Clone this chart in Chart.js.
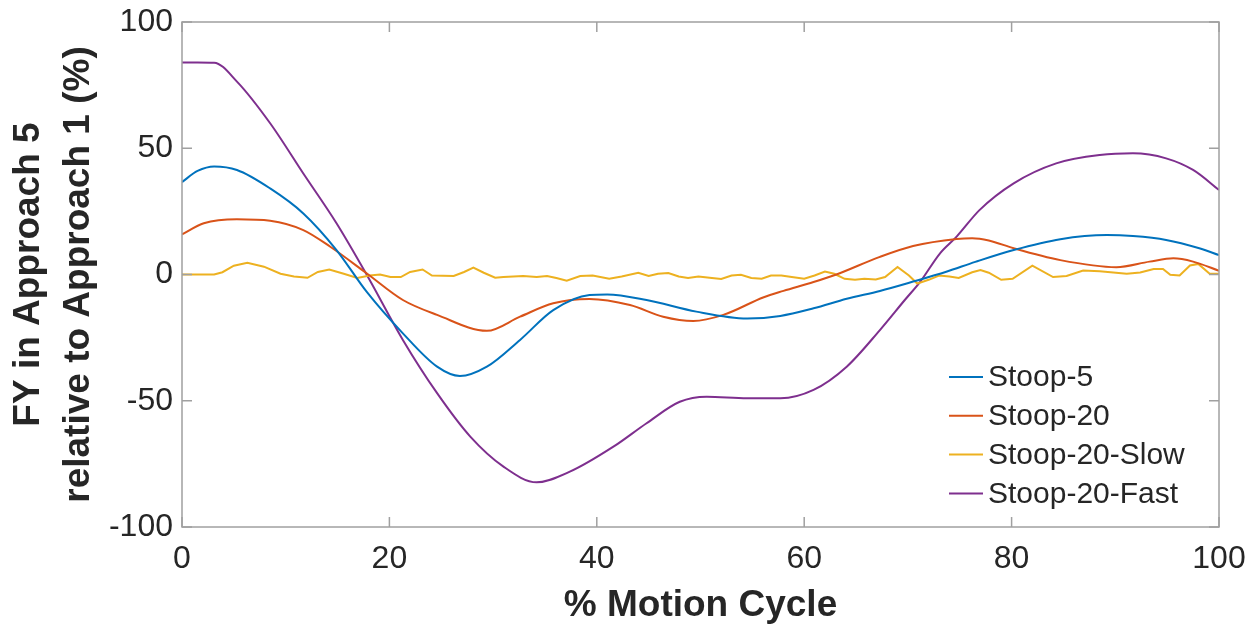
<!DOCTYPE html>
<html>
<head>
<meta charset="utf-8">
<script src="https://cdn.jsdelivr.net/npm/chart.js@4.4.1/dist/chart.umd.min.js"></script>
<style>
  html, body { margin: 0; padding: 0; background: #ffffff; }
  #wrap { width: 1260px; height: 628px; }
</style>
</head>
<body>
<div id="wrap"><canvas id="c" width="1260" height="628"></canvas></div>
<script>
// Series labels and colours
const seriesNames = ['Stoop-5', 'Stoop-20', 'Stoop-20-Slow', 'Stoop-20-Fast'];
const seriesColors = ['#0072BD', '#D95319', '#EDB120', '#7E2F8E'];

// Stoop-5
const stoop5X = [0, 1.5, 3.1, 5.3, 8.5, 11.7, 14.9, 17.8, 21.3, 24.6, 26.8, 29.4, 32.6, 35.8, 39.3, 41, 44.8, 49.6, 54.5, 57.7, 60.9, 64.1, 67.3, 70.5, 73.7, 76.5, 80.2, 84.7, 89.2, 91.7, 94.9, 98.1, 100];
const stoop5Y = [36.6, 41, 42.8, 41.4, 34.1, 24.2, 9.7, -6.8, -23.3, -36.5, -40.2, -36.5, -25.9, -14.1, -8.1, -7.9, -10.1, -14.7, -17.4, -16.4, -13.4, -9.6, -6.5, -2.8, 1.1, 5, 9.7, 14, 15.6, 15.2, 13.7, 10.4, 7.7];

// Stoop-20
const stoop20X = [0, 2.1, 5.3, 8.5, 11.7, 14.3, 17.8, 21.3, 24.6, 29.4, 32.6, 35.8, 39.3, 43.2, 46.4, 49.3, 52.2, 56.1, 58, 60.9, 63.1, 67.3, 70.5, 74.7, 76.2, 77.8, 80.2, 84.7, 90.1, 93.3, 95.6, 97.5, 100];
const stoop20Y = [15.9, 20.3, 21.9, 21.3, 17.6, 11, 0.5, -10.1, -16, -22.3, -16.7, -11.4, -9.7, -12.1, -16.7, -18.4, -16, -9, -6.5, -3, 0, 7, 11.3, 14.1, 14.4, 13.5, 10.4, 5.7, 2.9, 5.1, 6.4, 5.1, 1.5];

// Stoop-20-Slow
const slowX = [0, 3.1, 3.9, 5, 6.3, 7.9, 9.5, 10.8, 12.1, 13.1,
  14.2, 15.6, 16.9, 18.1, 19.1, 20.1, 21.1, 22, 23.2, 24.1,
  26.2, 27.2, 28.1, 29.1, 30.2, 31, 32.9, 34.2, 35.2, 36.1,
  37.1, 38.4, 39.6, 41.2, 42.4, 44, 45, 45.9, 46.9, 47.9,
  48.8, 49.8, 51.1, 52, 53, 53.9, 54.9, 55.9, 56.8, 57.8,
  58.8, 60, 61, 62, 62.9, 63.9, 64.9, 65.8, 66.9, 67.8,
  69, 70.1, 70.9, 72, 73, 74, 74.9, 76.2, 77, 77.8,
  79, 80.1, 82, 84, 85.3, 86.9, 88.5, 91.1, 92.4, 93.7,
  94.6, 95.3, 96.2, 97.2, 98, 99.1, 100];
const slowY = [0, 0, 0.9, 3.5, 4.6, 3.1, 0.3, -0.8, -1.3, 1,
  2, 0.3, -1.4, -0.4, 0, -1, -1, 1, 2, -0.4,
  -0.6, 1, 2.7, 0.7, -1.3, -1, -0.6, -1, -0.6, -1.4,
  -2.5, -0.6, -0.4, -1.7, -0.8, 0.7, -0.6, 0.3, 0.6, -0.8,
  -1.4, -0.8, -1.4, -1.8, -0.4, -0.1, -1.4, -1.7, -0.4, -0.4,
  -1, -1.7, -0.4, 1.2, 0.3, -1.7, -2.1, -1.7, -2, -1,
  3, -0.4, -3.6, -2.1, -0.4, -0.8, -1.4, 0.9, 1.8, 0.7,
  -2.1, -1.7, 3.5, -1, -0.6, 1.6, 1.3, 0.3, 0.8, 2.2,
  2.2, -0.1, -0.4, 3.6, 4.2, 0.3, 0.3];

// Stoop-20-Fast
const fastX = [0, 1.5, 3.1, 5.3, 8.5, 11.7, 14.9, 17.8, 21.3, 24.6, 27.8, 31, 34.2, 37.4, 41.6, 44.8, 48, 50.6, 54.5, 57.7, 60.9, 64.1, 67.3, 69.7, 71.2, 73.1, 74.7, 76.9, 80.2, 84.3, 88.5, 91.7, 94.9, 97.5, 100];
const fastY = [84, 84, 83.9, 76.4, 59.9, 40, 20.3, 0, -25.9, -47, -64.2, -76.1, -82.3, -78.1, -68.2, -58.9, -50.4, -48.4, -49, -49, -45.7, -36.5, -22, -10.1, -2.8, 8.4, 15, 25.5, 36.1, 44, 47.3, 48, 46, 41.4, 33.5];

// Axis ticks
const xTicks = [0, 20, 40, 60, 80, 100];
const yTicks = [-100, -50, 0, 50, 100];

const xTitle = '% Motion Cycle';
const yTitle = ['FY in Approach 5', 'relative to Approach 1 (%)'];

const FONT = '"Liberation Sans", Arial, Helvetica, sans-serif';
const TEXT = '#262626';
const AXIS = '#a0a0a0';

function pts(xs, ys) { return xs.map((x, i) => ({ x: x, y: ys[i] })); }

const seriesData = [pts(stoop5X, stoop5Y), pts(stoop20X, stoop20Y), pts(slowX, slowY), pts(fastX, fastY)];
const smooth = [true, true, false, true];

const datasets = seriesData.map((d, i) => ({
  label: seriesNames[i],
  data: d,
  borderColor: seriesColors[i],
  backgroundColor: seriesColors[i],
  borderWidth: 2,
  pointRadius: 0,
  showLine: true,
  fill: false,
  tension: smooth[i] ? 0.4 : 0,
  cubicInterpolationMode: smooth[i] ? 'monotone' : 'default'
}));

// Box around the plot with inward tick marks on all four sides
const boxAndTicks = {
  id: 'boxAndTicks',
  afterDatasetsDraw(chart) {
    const { ctx, chartArea: a, scales: { x, y } } = chart;
    const tl = 10;
    ctx.save();
    ctx.strokeStyle = AXIS;
    ctx.lineWidth = 1.5;
    ctx.strokeRect(a.left, a.top, a.right - a.left, a.bottom - a.top);
    ctx.beginPath();
    xTicks.forEach(v => {
      const px = x.getPixelForValue(v);
      ctx.moveTo(px, a.bottom); ctx.lineTo(px, a.bottom - tl);
      ctx.moveTo(px, a.top); ctx.lineTo(px, a.top + tl);
    });
    yTicks.forEach(v => {
      const py = y.getPixelForValue(v);
      ctx.moveTo(a.left, py); ctx.lineTo(a.left + tl, py);
      ctx.moveTo(a.right, py); ctx.lineTo(a.right - tl, py);
    });
    ctx.stroke();
    ctx.restore();
  }
};

// Legend drawn inside the lower-right corner of the plot
const innerLegend = {
  id: 'innerLegend',
  afterDatasetsDraw(chart) {
    const { ctx, chartArea: a } = chart;
    const x0 = a.right - 270, x1 = a.right - 236, tx = a.right - 231;
    const rowH = 38.8;
    const firstRow = a.bottom - 150;
    ctx.save();
    ctx.font = '30px ' + FONT;
    ctx.textBaseline = 'middle';
    ctx.textAlign = 'left';
    chart.data.datasets.forEach((ds, i) => {
      const yy = firstRow + i * rowH;
      ctx.strokeStyle = ds.borderColor;
      ctx.lineWidth = 2;
      ctx.beginPath();
      ctx.moveTo(x0, yy); ctx.lineTo(x1, yy);
      ctx.stroke();
      ctx.fillStyle = TEXT;
      ctx.fillText(ds.label, tx, yy + 1);
    });
    ctx.restore();
  }
};

new Chart(document.getElementById('c'), {
  type: 'scatter',
  data: { datasets: datasets },
  options: {
    responsive: false,
    animation: false,
    layout: { padding: { left: 0, top: 22, right: 41, bottom: 0 } },
    plugins: {
      legend: { display: false },
      tooltip: { enabled: false }
    },
    scales: {
      x: {
        type: 'linear',
        min: 0, max: 100,
        afterBuildTicks(scale) { scale.ticks = xTicks.map(v => ({ value: v })); },
        afterFit(scale) { scale.height = 101; },
        grid: { display: false, drawTicks: false },
        border: { display: false },
        ticks: { color: TEXT, font: { family: FONT, size: 32 }, padding: 13, maxRotation: 0, autoSkip: false },
        title: { display: true, text: xTitle, color: TEXT, font: { family: FONT, size: 37, weight: 'bold', lineHeight: 1.2 }, padding: { top: 0, bottom: 0 } }
      },
      y: {
        type: 'linear',
        min: -100, max: 100,
        afterBuildTicks(scale) { scale.ticks = yTicks.map(v => ({ value: v })); },
        afterFit(scale) { scale.width = 182; scale.paddingTop = 0; scale.paddingBottom = 0; },
        grid: { display: false, drawTicks: false },
        border: { display: false },
        ticks: { color: TEXT, font: { family: FONT, size: 32 }, padding: 9, autoSkip: false },
        title: { display: true, text: yTitle, color: TEXT, font: { family: FONT, size: 37, weight: 'bold', lineHeight: '50px' }, padding: { top: 4, bottom: 0 } }
      }
    }
  },
  plugins: [boxAndTicks, innerLegend]
});
</script>
</body>
</html>
